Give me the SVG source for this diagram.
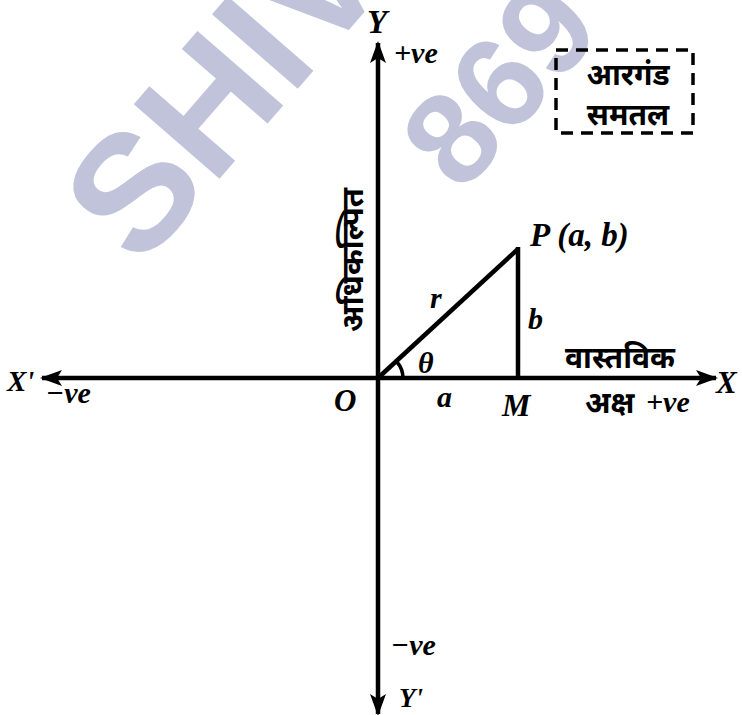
<svg xmlns="http://www.w3.org/2000/svg" width="742" height="715" viewBox="0 0 742 715">
<defs>
<style>
.wm{font-family:"Liberation Sans",Arial,sans-serif;font-weight:bold;fill:#C1C3DA}
.lt{font-family:"Liberation Serif","Times New Roman",serif;font-weight:bold;font-style:italic;fill:#000}
.dv{font-family:"Noto Sans Devanagari","Noto Sans","Lohit Devanagari","FreeSans",sans-serif;font-weight:bold;fill:#000}
.ln{stroke:#000;stroke-width:4.5;fill:none}
</style>
<marker id="ah" viewBox="0 0 22 16" refX="20" refY="8" markerWidth="22" markerHeight="16" markerUnits="userSpaceOnUse" orient="auto">
<path d="M0,0 L22,8 L0,16 L5,8 Z" fill="#000"/>
</marker>
</defs>
<rect width="742" height="715" fill="#fff"/>
<g id="watermark">
<text class="wm" font-size="165" transform="translate(140,270) rotate(-49)">SHIV</text>
<text class="wm" font-size="130" transform="translate(462,195) rotate(-49)">869</text>
</g>
<g id="connectors">
<line id="y-up" class="ln" x1="378" y1="378" x2="378" y2="43" marker-end="url(#ah)"/>
<line id="y-down" class="ln" x1="378" y1="378" x2="378" y2="714" marker-end="url(#ah)"/>
<line id="x-right" class="ln" x1="378" y1="378" x2="716" y2="378" marker-end="url(#ah)"/>
<line id="x-left" class="ln" x1="378" y1="378" x2="42" y2="378" marker-end="url(#ah)"/>
<line id="op" class="ln" x1="378" y1="378" x2="518" y2="249"/>
<line id="pm" class="ln" x1="518" y1="247" x2="518" y2="378"/>
<path id="theta-arc" d="M403,378 A25,25 0 0 0 397,362" stroke="#000" stroke-width="3.5" fill="none"/>
</g>
<g id="argand-box">
<rect x="556" y="50" width="137" height="83" fill="none" stroke="#000" stroke-width="3.5" stroke-dasharray="12,8"/>
<text class="dv" font-size="30" x="628" y="85" text-anchor="middle">आरगंड</text>
<text class="dv" font-size="30" x="628" y="125" text-anchor="middle">समतल</text>
</g>
<g id="labels">
<text class="lt" font-size="33" x="367" y="33">Y</text>
<text class="lt" font-size="30" x="394" y="63">+ve</text>
<text class="dv" font-size="31" transform="translate(363,260) rotate(-90)" text-anchor="middle">अधिकल्पित</text>
<text class="lt" font-size="33" x="530" y="246">P (a, b)</text>
<text class="lt" font-size="30" x="430" y="308">r</text>
<text class="lt" font-size="30" x="528" y="329">b</text>
<text class="lt" font-size="30" x="418" y="373">θ</text>
<text class="dv" font-size="30" x="620" y="368" text-anchor="middle">वास्तविक</text>
<text class="lt" font-size="31" x="716" y="393">X</text>
<text class="lt" font-size="29" x="7" y="391">X'</text>
<text class="lt" font-size="30" x="46" y="403">−ve</text>
<text class="lt" font-size="31" x="334" y="411">O</text>
<text class="lt" font-size="30" x="437" y="407">a</text>
<text class="lt" font-size="32" x="502" y="416">M</text>
<text class="dv" font-size="30" x="585" y="413">अक्ष</text>
<text class="lt" font-size="30" x="646" y="412">+ve</text>
<text class="lt" font-size="30" x="391" y="655">−ve</text>
<text class="lt" font-size="27" x="399" y="707">Y'</text>
</g>
</svg>
